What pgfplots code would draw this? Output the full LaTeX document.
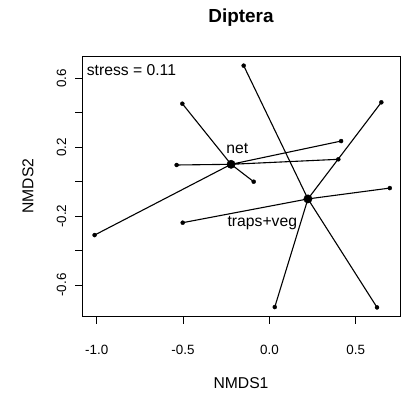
\documentclass[border=0pt]{standalone}
\usepackage{pgfplots}
\pgfplotsset{compat=1.18}
\usepackage{fontspec}
\setmainfont{Liberation Sans}
\begin{document}
\begin{tikzpicture}[x=1bp,y=1bp]
\path[use as bounding box] (0,0) rectangle (401,393);
\begin{axis}[
  at={(82.5bp,76.3bp)}, anchor=south west, scale only axis,
  width=317.5bp, height=260.7bp,
  xmin=-1.082, xmax=0.756, ymin=-0.784, ymax=0.730,
  axis line style={line width=0.9bp},
  tick align=outside, major tick length=7bp,
  tick style={line width=0.9bp, black},
  xtick pos=bottom, ytick pos=left,
  xtick={-1,-0.5,0,0.5}, xticklabels={-1.0,-0.5,0.0,0.5},
  ytick={-0.6,-0.4,-0.2,0,0.2,0.4,0.6}, yticklabels={-0.6,,-0.2,,0.2,,0.6},
  /pgf/number format/assume math mode=true,
  tick label style={font=\fontsize{13.4bp}{16bp}\selectfont, inner sep=0pt},
  xticklabel style={anchor=north},
  yticklabel style={rotate=90, anchor=south},
  xticklabel shift=21bp, yticklabel shift=9bp,
  clip=false,
]
% net spider
\addplot[black, line width=1.1bp, line join=round, mark=none] coordinates {
  (-0.222,0.101) (-0.504,0.453) (-0.222,0.101) (-0.537,0.097)
  (-0.222,0.101) (-0.091,0.000) (-0.222,0.101) (-1.012,-0.310)
  (-0.222,0.101) (0.415,0.236) (-0.222,0.101) (0.399,0.130)
};
% traps+veg spider
\addplot[black, line width=1.1bp, line join=round, mark=none] coordinates {
  (0.223,-0.100) (-0.149,0.674) (0.223,-0.100) (0.648,0.461)
  (0.223,-0.100) (0.697,-0.037) (0.223,-0.100) (-0.502,-0.238)
  (0.223,-0.100) (0.031,-0.728) (0.223,-0.100) (0.623,-0.730)
};
% sites
\addplot[only marks, mark=*, mark size=2bp, black] coordinates {
  (-0.504,0.453) (-0.537,0.097) (-0.091,0.000) (-1.012,-0.310)
  (0.415,0.236) (0.399,0.130)
  (-0.149,0.674) (0.648,0.461) (0.697,-0.037) (-0.502,-0.238)
  (0.031,-0.728) (0.623,-0.730)
};
% centroids
\addplot[only marks, mark=*, mark size=4.2bp, black] coordinates {
  (-0.222,0.101) (0.223,-0.100)
};
\node[font=\fontsize{15.7bp}{18bp}\selectfont, inner sep=0pt] at (axis cs:-0.186,0.194) {net};
\node[font=\fontsize{15.7bp}{18bp}\selectfont, inner sep=0pt] at (axis cs:-0.041,-0.242) {traps+veg};
\end{axis}
\node[font=\fontsize{15.7bp}{18bp}\selectfont, anchor=west, inner sep=0pt] at (86.7,323) {stress = 0.11};
\node[font=\bfseries\fontsize{18.9bp}{22bp}\selectfont, inner sep=0pt] at (241,375) {Diptera};
\node[font=\fontsize{15.7bp}{18bp}\selectfont, inner sep=0pt] at (241,10) {NMDS1};
\node[font=\fontsize{15.7bp}{18bp}\selectfont, inner sep=0pt, rotate=90] at (28,207) {NMDS2};
\end{tikzpicture}
\end{document}
